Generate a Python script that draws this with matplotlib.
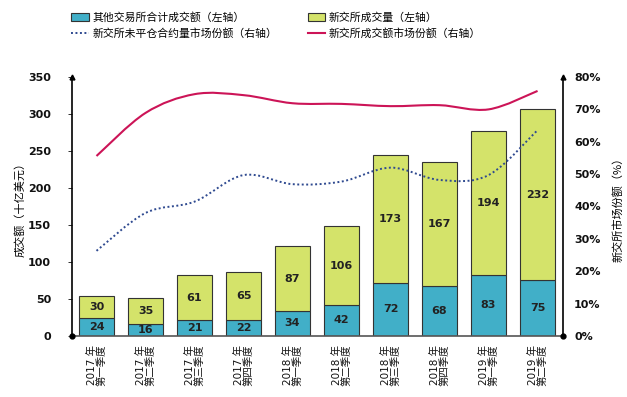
import matplotlib
matplotlib.use('Agg')
import matplotlib.pyplot as plt
from matplotlib.path import Path
from matplotlib.patches import PathPatch, Patch
from matplotlib.lines import Line2D
import numpy as np

plt.rcParams['font.family'] = ['DejaVu Sans', 'Noto Sans CJK SC']

# 数据
quarters = ['2017 年\n第一季度', '2017 年\n第二季度', '2017 年\n第三季度', '2017 年\n第四季度',
            '2018 年\n第一季度', '2018 年\n第二季度', '2018 年\n第三季度', '2018 年\n第四季度',
            '2019 年\n第一季度', '2019 年\n第二季度']
other_turnover = [24, 16, 21, 22, 34, 42, 72, 68, 83, 75]
sgx_volume = [30, 35, 61, 65, 87, 106, 173, 167, 194, 232]
turnover_share = [55.6, 68.9, 74.7, 74.4, 71.9, 71.7, 71.0, 71.3, 70.0, 75.7]
oi_share = [26.3, 38.0, 41.5, 49.7, 46.9, 47.7, 52.0, 48.2, 49.7, 63.6]

teal = '#41AFC8'
lime = '#D4E36A'
red = '#CC1457'
navy = '#2F4A90'
cjk = ['Noto Sans CJK SC', 'DejaVu Sans']

fig = plt.figure(figsize=(6.27, 3.97), dpi=100)
ax = fig.add_axes([0.1148, 0.1537, 0.7832, 0.6523])
ax2 = ax.twinx()

x = np.arange(len(quarters))
w = 0.71
ax.bar(x, other_turnover, w, color=teal, edgecolor='#333333', linewidth=0.8, zorder=2)
ax.bar(x, sgx_volume, w, bottom=other_turnover, color=lime, edgecolor='#333333', linewidth=0.8, zorder=2)

for i in range(len(x)):
    ax.text(x[i], other_turnover[i] / 2, str(other_turnover[i]), ha='center', va='center',
            fontsize=8, fontweight='bold', color='#222222', zorder=3)
    ax.text(x[i], other_turnover[i] + sgx_volume[i] / 2, str(sgx_volume[i]), ha='center', va='center',
            fontsize=8, fontweight='bold', color='#222222', zorder=3)


# 平滑曲线（类似 Excel 的平滑线）
def smooth_path(xs, ys):
    pts = list(zip(xs, ys))
    verts = [pts[0]]
    codes = [Path.MOVETO]
    n = len(pts)
    for i in range(n - 1):
        p0 = pts[i - 1] if i > 0 else pts[i]
        p1 = pts[i]
        p2 = pts[i + 1]
        p3 = pts[i + 2] if i + 2 < n else pts[i + 1]
        c1 = (p1[0] + (p2[0] - p0[0]) / 6, p1[1] + (p2[1] - p0[1]) / 6)
        c2 = (p2[0] - (p3[0] - p1[0]) / 6, p2[1] - (p3[1] - p1[1]) / 6)
        verts += [c1, c2, p2]
        codes += [Path.CURVE4] * 3
    return Path(verts, codes)


ax2.add_patch(PathPatch(smooth_path(x, turnover_share), fill=False, edgecolor=red, linewidth=1.5, zorder=3))
ax2.add_patch(PathPatch(smooth_path(x, oi_share), fill=False, edgecolor=navy, linewidth=1.4,
                        linestyle=(0, (1, 1.3)), zorder=3))

ax.set_xlim(-0.5, 9.52)
ax.set_ylim(0, 350)
ax2.set_ylim(0, 80)
ax.set_yticks(range(0, 351, 50))
ax2.set_yticks(range(0, 81, 10))
ax2.set_yticklabels([f'{v}%' for v in range(0, 81, 10)])
ax.set_xticks(x)
ax.set_xticklabels(quarters, rotation=90, fontsize=7.5, linespacing=1.0, color='#111111')

for a in (ax, ax2):
    for s in a.spines.values():
        s.set_visible(False)
    a.tick_params(axis='y', labelsize=8, colors='#111111')
ax.tick_params(axis='x', length=0, pad=6)
ax.tick_params(axis='y', length=3, width=0.6, pad=12)
ax2.tick_params(axis='y', length=0, pad=8)
for t in ax.get_yticklabels() + ax2.get_yticklabels():
    t.set_fontweight('bold')

ax.spines['left'].set_visible(True)
ax.spines['bottom'].set_visible(True)
ax2.spines['right'].set_visible(True)
ax.spines['left'].set_linewidth(1.2)
ax.spines['bottom'].set_linewidth(1.2)
ax2.spines['right'].set_linewidth(1.2)
ax.spines['bottom'].set_color('#555555')

# 轴端的箭头和圆点
ax.plot([0, 1], [0, 0], 'o', color='black', markersize=3.5, transform=ax.transAxes, clip_on=False, zorder=5)
ax.plot([0, 1], [1.0, 1.0], '^', color='black', markersize=3.5, transform=ax.transAxes, clip_on=False, zorder=5)

ax.set_ylabel('成交额（十亿美元）', fontsize=8, family=cjk, ha='center', va='center')
ax.yaxis.set_label_coords(-0.106, 0.5)
ax2.set_ylabel('新交所市场份额（%）', fontsize=8, rotation=90, family=cjk, ha='center', va='center')
ax2.yaxis.set_label_coords(1.112, 0.5)

handles = [Patch(facecolor=teal, edgecolor='#333333', linewidth=0.8),
           Line2D([], [], color=navy, linestyle=(0, (1, 1.3)), linewidth=1.4),
           Patch(facecolor=lime, edgecolor='#333333', linewidth=0.8),
           Line2D([], [], color=red, linewidth=1.5)]
labels = ['其他交易所合计成交额（左轴）', '新交所未平仓合约量市场份额（右轴）',
          '新交所成交量（左轴）', '新交所成交额市场份额（右轴）']
fig.legend(handles, labels, ncol=2, loc='upper left', bbox_to_anchor=(0.098, 0.995),
           frameon=False, prop={'family': cjk, 'size': 7.8},
           handlelength=1.6, handletextpad=0.35, columnspacing=2.8, labelspacing=0.55,
           handleheight=0.8)

fig.savefig('out.png', dpi=100)
